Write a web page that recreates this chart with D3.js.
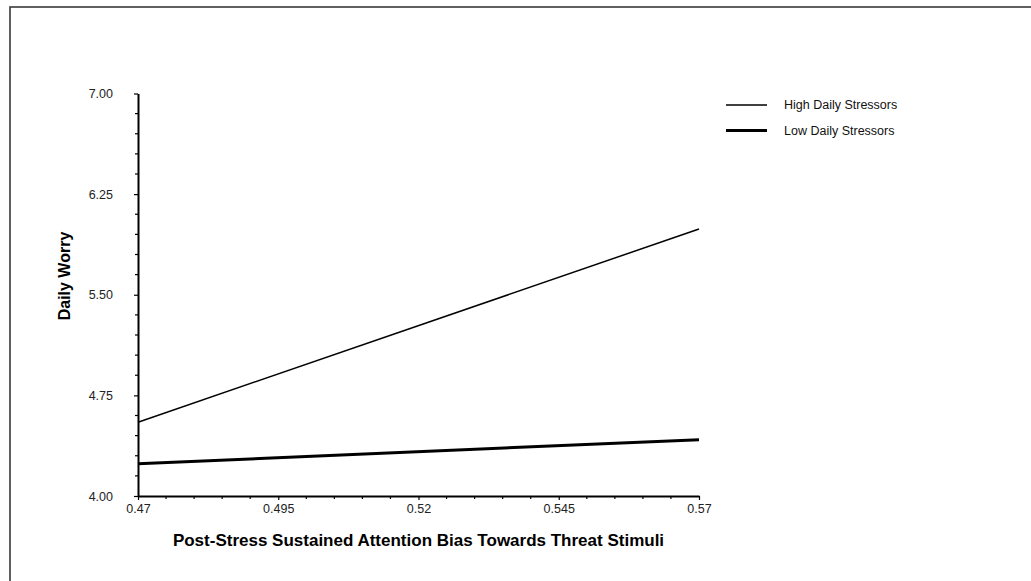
<!DOCTYPE html>
<html>
<head>
<meta charset="utf-8">
<script src="https://cdn.jsdelivr.net/npm/d3@7"></script>
<style>
    body { margin: 0; background: #fff; }
    svg { display: block; font-family: "Liberation Sans", Arial, sans-serif; }
    .axis path, .axis line { stroke: #000; }
    .axis text { fill: #222; font-size: 12.5px; }
    .axis-title { font-weight: bold; font-size: 16px; fill: #000; }
    .x-title { font-size: 17px; }
    .legend text { font-size: 12.5px; fill: #111; }
</style>
</head>
<body>
<svg class="chart"></svg>
<script>

// values
const attention = [0.47, 0.57];
const high_stress = [4.55, 5.99];
const low_stress = [4.24, 4.42];

const series_names = ["High Daily Stressors", "Low Daily Stressors"];
const series_widths = [1.5, 3];

const x_ticks = [0.47, 0.495, 0.52, 0.545, 0.57];
const x_tick_labels = ["0.47", "0.495", "0.52", "0.545", "0.57"];
const y_ticks = [4.00, 4.75, 5.50, 6.25, 7.00];
const y_tick_labels = ["4.00", "4.75", "5.50", "6.25", "7.00"];

const x_title = "Post-Stress Sustained Attention Bias Towards Threat Stimuli";
const y_title = "Daily Worry";

graph = {
    width: 1031,
    height: 581,
    left: 138,
    right: 699,
    top: 93.5,
    bottom: 496,
    svg: null,
};

graph.svg = d3.select("svg.chart")
    .attr("width", graph.width)
    .attr("height", graph.height);

// outer frame, cut off on the right and bottom like the picture
graph.svg.append("rect")
    .attr("x", 10)
    .attr("y", 7)
    .attr("width", graph.width)
    .attr("height", graph.height)
    .attr("fill", "none")
    .attr("stroke", "#3a3a3a")
    .attr("stroke-width", 1.6);

let x = d3.scaleLinear().domain([x_ticks[0], x_ticks[x_ticks.length - 1]]).range([graph.left, graph.right]);
let y = d3.scaleLinear().domain([y_ticks[0], y_ticks[y_ticks.length - 1]]).range([graph.bottom, graph.top]);

// minor ticks: 4 between each pair of major ticks
function minors(ticks) {
    let out = [];
    for (let i = 0; i < ticks.length - 1; i++) {
        let step = (ticks[i + 1] - ticks[i]) / 5;
        for (let k = 1; k < 5; k++) out.push(ticks[i] + step * k);
    }
    return out;
}

let x_axis = graph.svg.append("g")
    .attr("class", "axis")
    .attr("transform", "translate(0," + graph.bottom + ")")
    .call(d3.axisBottom(x)
        .tickValues(x_ticks)
        .tickFormat((d, i) => x_tick_labels[i])
        .tickSize(4)
        .tickSizeOuter(0)
        .tickPadding(4));

x_axis.selectAll(".minor")
    .data(minors(x_ticks))
    .enter().append("line")
        .attr("class", "minor")
        .attr("x1", (d) => x(d))
        .attr("x2", (d) => x(d))
        .attr("y1", 0)
        .attr("y2", 3);

let y_axis = graph.svg.append("g")
    .attr("class", "axis")
    .attr("transform", "translate(" + graph.left + ",0)")
    .call(d3.axisLeft(y)
        .tickValues(y_ticks)
        .tickFormat((d, i) => y_tick_labels[i])
        .tickSize(4)
        .tickSizeOuter(0)
        .tickPadding(21));

y_axis.selectAll(".minor")
    .data(minors(y_ticks))
    .enter().append("line")
        .attr("class", "minor")
        .attr("y1", (d) => y(d))
        .attr("y2", (d) => y(d))
        .attr("x1", 0)
        .attr("x2", -3);

graph.svg.selectAll(".axis path.domain").attr("stroke-width", 2);
graph.svg.selectAll(".axis line").attr("stroke-width", 1.2);

// axis titles
graph.svg.append("text")
    .attr("class", "axis-title x-title")
    .attr("x", (graph.left + graph.right) / 2)
    .attr("y", 546)
    .attr("text-anchor", "middle")
    .text(x_title);

graph.svg.append("text")
    .attr("class", "axis-title")
    .attr("transform", "translate(70,276) rotate(-90)")
    .attr("text-anchor", "middle")
    .text(y_title);

// the two lines
const series = [high_stress, low_stress];
let line = d3.line()
    .x((d, i) => x(attention[i]))
    .y((d) => y(d));

graph.svg.append("g")
    .attr("class", "lines")
    .selectAll("path")
    .data(series)
    .enter().append("path")
        .attr("d", line)
        .attr("fill", "none")
        .attr("stroke", "#000")
        .attr("stroke-width", (d, i) => series_widths[i]);

// legend
let legend = graph.svg.append("g")
    .attr("class", "legend")
    .attr("transform", "translate(726,105)");

let items = legend.selectAll("g")
    .data(series_names)
    .enter().append("g")
        .attr("transform", (d, i) => "translate(0," + (i * 25.5) + ")");

items.append("line")
    .attr("x1", 0)
    .attr("x2", 41)
    .attr("stroke", "#000")
    .attr("stroke-width", (d, i) => series_widths[i]);

items.append("text")
    .attr("x", 58)
    .attr("dy", "0.35em")
    .text((d) => d);

</script>
</body>
</html>
